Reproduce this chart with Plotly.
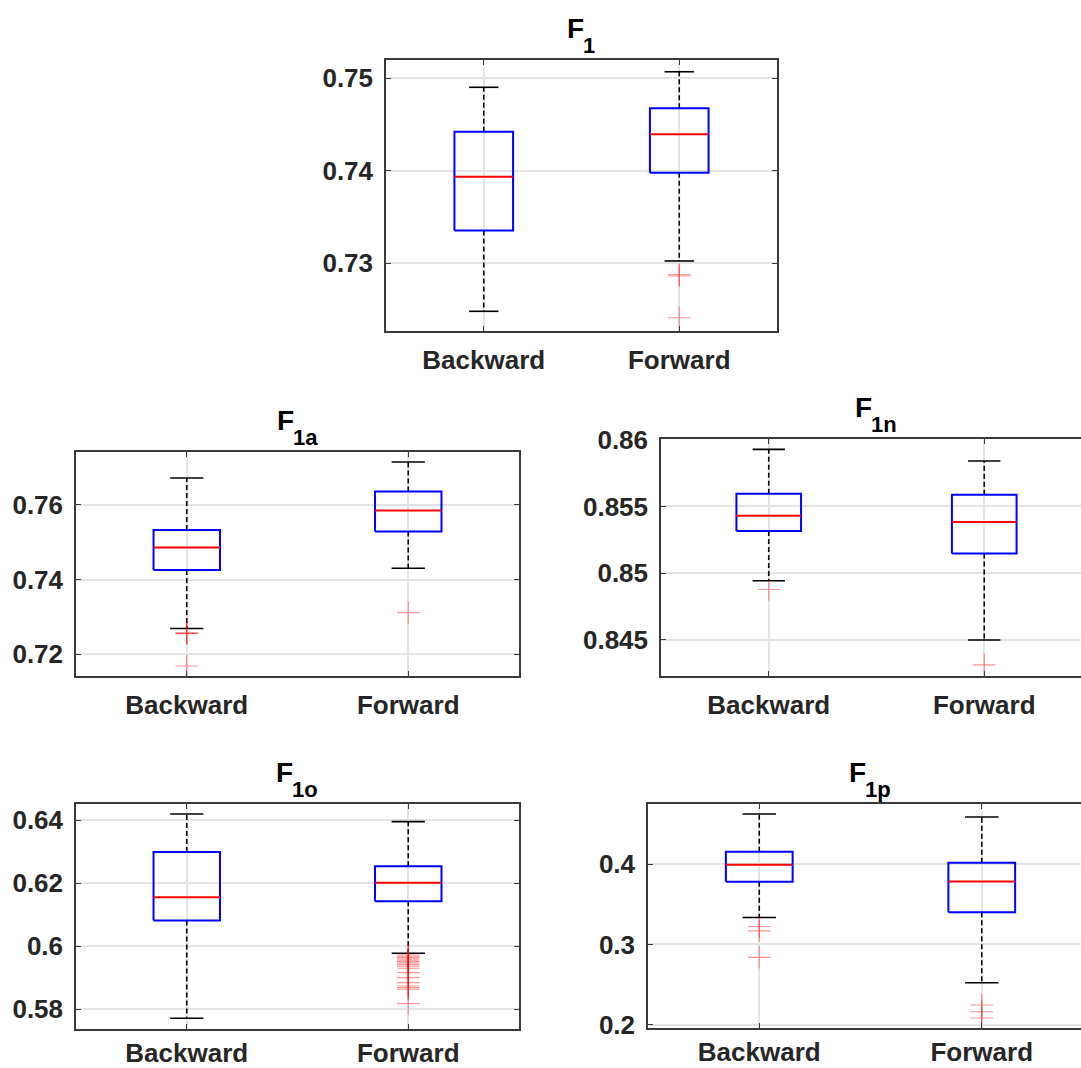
import plotly.graph_objects as go

# Group labels on every x axis
groups = ["Backward", "Forward"]

# Box statistics per group: [lower whisker, Q1, median, Q3, upper whisker]
f1_stats = [[0.72478, 0.73351, 0.73932, 0.74419, 0.74900],
            [0.73022, 0.73975, 0.74391, 0.74672, 0.75068]]
f1a_stats = [[0.72690, 0.74259, 0.74861, 0.75332, 0.76722],
             [0.74305, 0.75289, 0.75850, 0.76358, 0.77150]]
f1n_stats = [[0.84943, 0.85316, 0.85430, 0.85595, 0.85927],
             [0.84500, 0.85148, 0.85383, 0.85588, 0.85840]]
f1o_stats = [[0.57714, 0.60816, 0.61556, 0.62994, 0.64200],
             [0.59778, 0.61429, 0.62020, 0.62540, 0.63959]]
f1p_stats = [[0.33354, 0.37800, 0.39910, 0.41528, 0.46248],
             [0.25230, 0.34012, 0.37851, 0.40166, 0.45876]]

# Outliers per group
f1_outliers = [[], [0.72875, 0.72860, 0.72409]]
f1a_outliers = [[0.72575, 0.72565, 0.72555, 0.71687], [0.73118]]
f1n_outliers = [[0.84878], [0.84313]]
f1o_outliers = [[], [0.59725, 0.59683, 0.59640, 0.59598, 0.59556, 0.59513,
                     0.59471, 0.59418, 0.59365, 0.59302, 0.59164, 0.59005,
                     0.58847, 0.58741, 0.58688, 0.58635, 0.58180]]
f1p_outliers = [[0.32236, 0.31690, 0.28385], [0.22447, 0.21615, 0.20830]]

# Y tick values per panel
f1_ticks = [0.73, 0.74, 0.75]
f1a_ticks = [0.72, 0.74, 0.76]
f1n_ticks = [0.845, 0.85, 0.855, 0.86]
f1o_ticks = [0.58, 0.60, 0.62, 0.64]
f1p_ticks = [0.2, 0.3, 0.4]

W, H = 1081, 1068
FONT = "Liberation Sans, Arial, sans-serif"
TXT = "#262626"
BOX_HALF = 0.15
TITLE_SIZE, SUB_SIZE = 28, 22
# rough glyph advance widths (em) for bold sans
ADV = {"F": 0.611, "1": 0.556, "a": 0.556, "n": 0.611, "o": 0.611, "p": 0.611}

# Each panel: subscript, stats, outliers, y ticks, y range, x range, pixel frame (x0, x1, y0, y1), closed right side
panels = [
    ("1", f1_stats, f1_outliers, f1_ticks, [0.72265, 0.75195], [0.5, 2.5], (386, 777, 60, 331), True),
    ("1a", f1a_stats, f1a_outliers, f1a_ticks, [0.7142, 0.77417], [0.5, 2.5], (76, 519, 452, 676), True),
    ("1n", f1n_stats, f1n_outliers, f1n_ticks, [0.8423, 0.86005], [0.5, 2.449], (661, 1081, 439, 676), False),
    ("1o", f1o_stats, f1o_outliers, f1o_ticks, [0.57375, 0.64517], [0.5, 2.5], (76, 519, 804, 1029), True),
    ("1p", f1p_stats, f1p_outliers, f1p_ticks, [0.1959, 0.4749], [0.5, 2.446], (648, 1081, 804, 1028), False),
]

fig = go.Figure()
layout = {}
annotations = []

for k, (sub, stats, outs, ticks, yr, xr, frame, full) in enumerate(panels):
    n = "" if k == 0 else str(k + 1)
    xa, ya = "x" + n, "y" + n
    x0, x1, y0, y1 = frame
    for i, (lo, q1, med, q3, hi) in enumerate(stats):
        c = i + 1
        # dashed whiskers
        fig.add_trace(go.Scatter(x=[c, c, None, c, c], y=[q3, hi, None, q1, lo], mode="lines",
                                 line=dict(color="black", width=1.6, dash="5px,3px"),
                                 xaxis=xa, yaxis=ya, showlegend=False, hoverinfo="skip"))
        # whisker caps
        fig.add_trace(go.Scatter(x=[c - BOX_HALF / 2, c + BOX_HALF / 2, None, c - BOX_HALF / 2, c + BOX_HALF / 2],
                                 y=[hi, hi, None, lo, lo], mode="lines",
                                 line=dict(color="black", width=1.6),
                                 xaxis=xa, yaxis=ya, showlegend=False, hoverinfo="skip"))
        # box
        fig.add_trace(go.Scatter(x=[c - BOX_HALF, c + BOX_HALF, c + BOX_HALF, c - BOX_HALF, c - BOX_HALF],
                                 y=[q1, q1, q3, q3, q1], mode="lines",
                                 line=dict(color="#0000ff", width=2),
                                 xaxis=xa, yaxis=ya, showlegend=False, hoverinfo="skip"))
        # median
        fig.add_trace(go.Scatter(x=[c - BOX_HALF, c + BOX_HALF], y=[med, med], mode="lines",
                                 line=dict(color="#ff0000", width=2),
                                 xaxis=xa, yaxis=ya, showlegend=False, hoverinfo="skip"))
        # outliers
        if outs[i]:
            fig.add_trace(go.Scatter(x=[c] * len(outs[i]), y=outs[i], mode="markers",
                                     marker=dict(symbol="cross-thin-open", size=16,
                                                 color="rgba(255,0,0,0.42)",
                                                 line=dict(color="rgba(255,0,0,0.42)", width=1.1)),
                                     xaxis=xa, yaxis=ya, showlegend=False, hoverinfo="skip"))

    axis_common = dict(showgrid=True, gridcolor="#e4e4e4", gridwidth=1.5,
                       showline=True, linecolor="#3a3a3a", linewidth=1.5,
                       ticks="inside", ticklen=5, tickcolor="#3a3a3a", tickwidth=1,
                       zeroline=False, fixedrange=True, automargin=False,
                       tickfont=dict(family=FONT, size=26, color=TXT, weight="bold"))
    layout["xaxis" + n] = dict(axis_common, domain=[x0 / W, x1 / W], range=xr,
                               tickmode="array", tickvals=[1, 2], ticktext=groups,
                               mirror="ticks", anchor=ya,
                               ticklabelstandoff=0 if y1 > 1000 else 5)
    layout["yaxis" + n] = dict(axis_common, domain=[1 - y1 / H, 1 - y0 / H], range=yr,
                               tickmode="array", tickvals=ticks,
                               mirror="ticks" if full else False, anchor=xa,
                               ticklabelstandoff=6)

    # title "F" with subscript, centred over the full (uncut) axes width
    span = (x1 - x0) / (xr[1] - xr[0]) * 2.0
    cx = x0 + span / 2
    fw = ADV["F"] * TITLE_SIZE
    sw = sum(ADV[ch] for ch in sub) * SUB_SIZE
    left = cx - (fw + sw) / 2
    base = y0 - 21
    annotations.append(dict(text="F", x=(left + fw / 2) / W, y=1 - (base - 0.358 * TITLE_SIZE) / H,
                            xref="paper", yref="paper", xanchor="center", yanchor="middle",
                            showarrow=False, borderpad=0,
                            font=dict(family=FONT, size=TITLE_SIZE, color="black", weight="bold")))
    annotations.append(dict(text=sub, x=(left + fw - 2) / W, y=1 - (base + 14 - 0.358 * SUB_SIZE) / H,
                            xref="paper", yref="paper", xanchor="left", yanchor="middle",
                            showarrow=False, borderpad=0,
                            font=dict(family=FONT, size=SUB_SIZE, color="black", weight="bold")))

fig.update_layout(width=W, height=H, margin=dict(l=0, r=0, t=0, b=0, pad=0),
                  paper_bgcolor="white", plot_bgcolor="white",
                  annotations=annotations, **layout)

fig.write_html("out.html")
